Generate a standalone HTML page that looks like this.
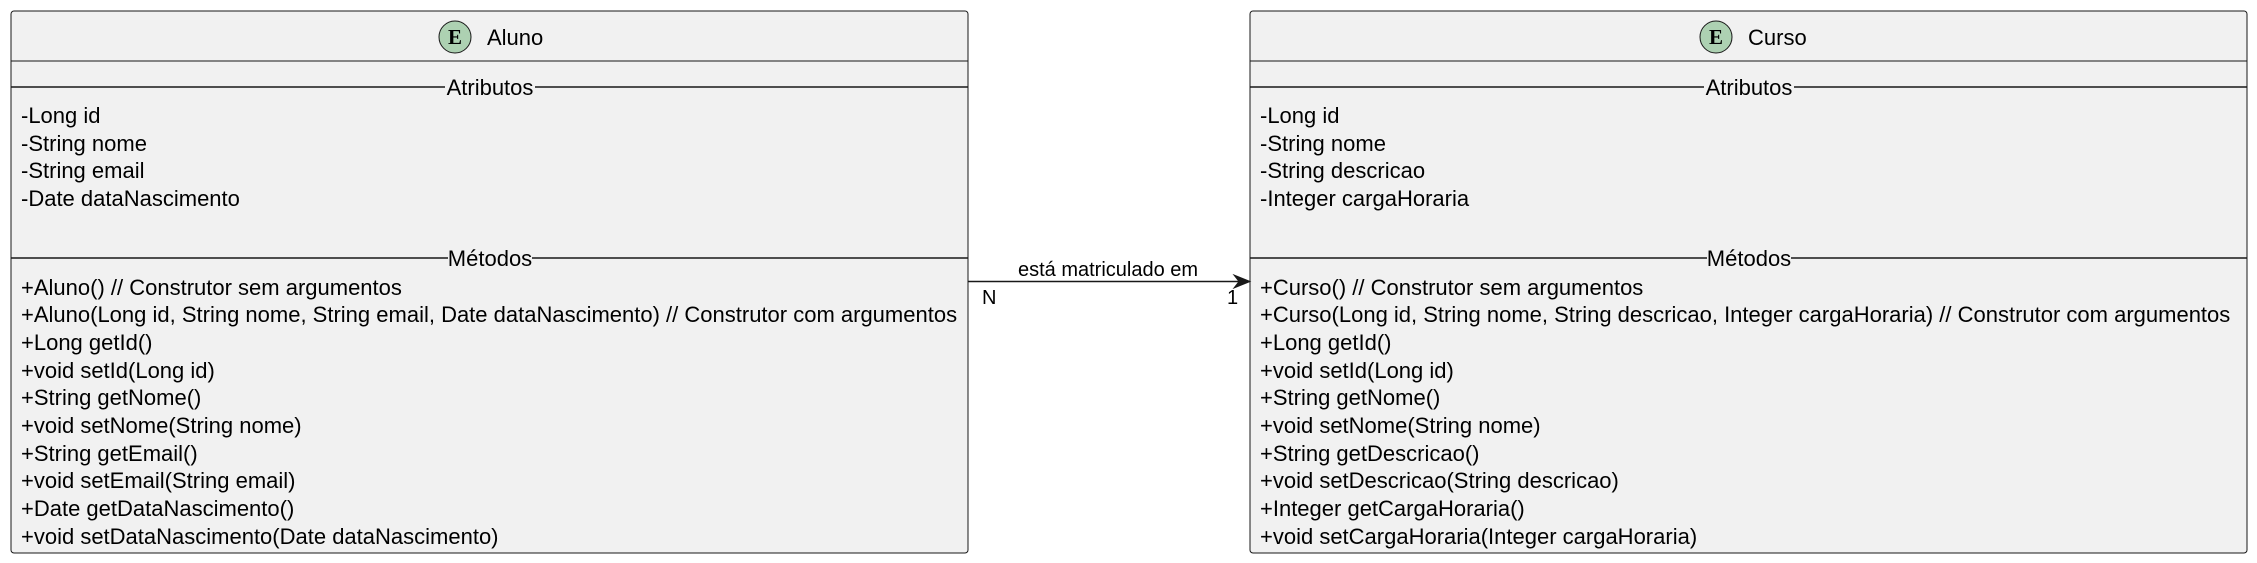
<!DOCTYPE html>
<html><head><meta charset="utf-8"><style>
html,body{margin:0;padding:0;background:#fff;width:2257px;height:563px;overflow:hidden}
svg{display:block}
text{font-family:"Liberation Sans",Arial,sans-serif;font-size:22px;fill:#000}
</style></head><body>
<svg width="2257" height="563" viewBox="0 0 2257 563">
<!-- Aluno -->
<rect x="11" y="11" width="957" height="542" rx="3" fill="#F1F1F1" stroke="#181818" stroke-width="1"/>
<line x1="11" y1="61" x2="968" y2="61" stroke="#181818" stroke-width="1"/>
<circle cx="455" cy="37" r="16" fill="#ADD1B2" stroke="#181818" stroke-width="1"/>
<text x="455" y="44" text-anchor="middle" style="font-family:'Liberation Serif',serif;font-weight:bold;font-size:21px">E</text>
<text x="487" y="45">Aluno</text>
<line x1="11" y1="87" x2="968" y2="87" stroke="#181818" stroke-width="1.5"/>
<rect x="445" y="75" width="90" height="24" fill="#F1F1F1"/>
<text x="490" y="95" text-anchor="middle">Atributos</text>
<line x1="11" y1="258" x2="968" y2="258" stroke="#181818" stroke-width="1.5"/>
<rect x="448" y="246" width="84" height="24" fill="#F1F1F1"/>
<text x="490" y="266" text-anchor="middle">Métodos</text>
<g>
<text x="21" y="123">-Long id</text>
<text x="21" y="151">-String nome</text>
<text x="21" y="178">-String email</text>
<text x="21" y="206">-Date dataNascimento</text>
<text x="21" y="295">+Aluno() // Construtor sem argumentos</text>
<text x="21" y="322">+Aluno(Long id, String nome, String email, Date dataNascimento) // Construtor com argumentos</text>
<text x="21" y="350">+Long getId()</text>
<text x="21" y="378">+void setId(Long id)</text>
<text x="21" y="405">+String getNome()</text>
<text x="21" y="433">+void setNome(String nome)</text>
<text x="21" y="461">+String getEmail()</text>
<text x="21" y="488">+void setEmail(String email)</text>
<text x="21" y="516">+Date getDataNascimento()</text>
<text x="21" y="544">+void setDataNascimento(Date dataNascimento)</text>
</g>
<!-- Curso -->
<rect x="1250" y="11" width="997" height="542" rx="3" fill="#F1F1F1" stroke="#181818" stroke-width="1"/>
<line x1="1250" y1="61" x2="2247" y2="61" stroke="#181818" stroke-width="1"/>
<circle cx="1716" cy="37" r="16" fill="#ADD1B2" stroke="#181818" stroke-width="1"/>
<text x="1716" y="44" text-anchor="middle" style="font-family:'Liberation Serif',serif;font-weight:bold;font-size:21px">E</text>
<text x="1748" y="45">Curso</text>
<line x1="1250" y1="87" x2="2247" y2="87" stroke="#181818" stroke-width="1.5"/>
<rect x="1704" y="75" width="90" height="24" fill="#F1F1F1"/>
<text x="1749" y="95" text-anchor="middle">Atributos</text>
<line x1="1250" y1="258" x2="2247" y2="258" stroke="#181818" stroke-width="1.5"/>
<rect x="1707" y="246" width="84" height="24" fill="#F1F1F1"/>
<text x="1749" y="266" text-anchor="middle">Métodos</text>
<g>
<text x="1260" y="123">-Long id</text>
<text x="1260" y="151">-String nome</text>
<text x="1260" y="178">-String descricao</text>
<text x="1260" y="206">-Integer cargaHoraria</text>
<text x="1260" y="295">+Curso() // Construtor sem argumentos</text>
<text x="1260" y="322">+Curso(Long id, String nome, String descricao, Integer cargaHoraria) // Construtor com argumentos</text>
<text x="1260" y="350">+Long getId()</text>
<text x="1260" y="378">+void setId(Long id)</text>
<text x="1260" y="405">+String getNome()</text>
<text x="1260" y="433">+void setNome(String nome)</text>
<text x="1260" y="461">+String getDescricao()</text>
<text x="1260" y="488">+void setDescricao(String descricao)</text>
<text x="1260" y="516">+Integer getCargaHoraria()</text>
<text x="1260" y="544">+void setCargaHoraria(Integer cargaHoraria)</text>
</g>
<!-- connector -->
<line x1="968" y1="281.5" x2="1247" y2="281.5" stroke="#181818" stroke-width="1.5"/>
<path d="M1250,281.5 L1234,275 L1239,281.5 L1234,288 Z" fill="#181818" stroke="#181818" stroke-width="1"/>
<text x="1108" y="276" text-anchor="middle" style="font-size:20px">está matriculado em</text>
<text x="982" y="304" style="font-size:20px">N</text>
<text x="1227" y="304" style="font-size:20px">1</text>
</svg>
</body></html>
